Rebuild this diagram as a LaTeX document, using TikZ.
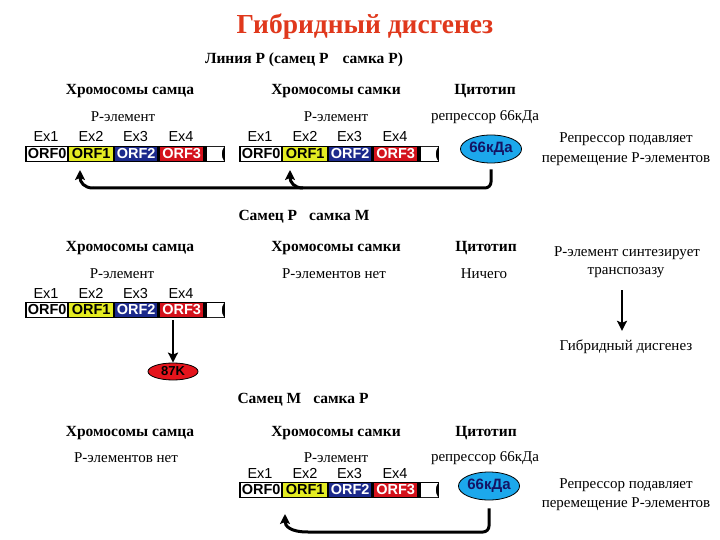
\documentclass[tikz,border=0pt]{standalone}
\usepackage{fontspec}
\setmainfont{Liberation Serif}
\newfontfamily\arialf{Liberation Sans}
\usetikzlibrary{arrows.meta,shapes.geometric}
\definecolor{ttl}{HTML}{E0381C}
\definecolor{orfy}{HTML}{E4EC22}
\definecolor{orfb}{HTML}{1C2A8C}
\definecolor{orfr}{HTML}{D4121C}
\definecolor{cyto}{HTML}{1CA8EC}
\definecolor{cytot}{HTML}{141464}
\definecolor{redk}{HTML}{E4141C}
\tikzset{
  head/.style={font=\fontsize{15.5}{18}\selectfont\bfseries, inner sep=0},
  txt/.style={font=\fontsize{15}{18}\selectfont, inner sep=0},
  exl/.style={font=\arialf\fontsize{14.5}{16}\selectfont, inner sep=0, anchor=base},
  seg/.style={font=\arialf\bfseries\fontsize{14.5}{16}\selectfont, inner sep=0, minimum height=14, anchor=west},
  conn/.style={line width=3pt, black},
  arr/.style={line width=3pt, black, -{Stealth[length=10pt,width=10pt,inset=2pt]}},
  arrthin/.style={line width=2pt, black, -{Stealth[length=10pt,width=10pt,inset=2pt]}},
  cytoell/.style={ellipse, draw=black, line width=0.8pt, fill=cyto, text=cytot, inner sep=0,
     minimum width=56, minimum height=28, font=\arialf\bfseries\fontsize{15}{16}\selectfont},
  pics/pbar/.style={code={
    \fill[black] (0,0) rectangle (200,16);
    \fill[white] (182,1) -- (199,1) .. controls (196,5) and (196,11) .. (199,15) -- (182,15) -- cycle;
    \node[seg,fill=white,text=black,minimum width=40] (-o0) at (2,8) {ORF0};
    \node[seg,fill=orfy,text=black,minimum width=44] (-o1) at (44,8) {ORF1};
    \node[seg,fill=orfb,text=white,minimum width=42] (-o2) at (90,8) {ORF2};
    \node[seg,fill=orfr,text=white,minimum width=43] (-o3) at (135,8) {ORF3};
    \node[exl] (-x1) at (21,-4) {Ex1};
    \node[exl] (-x2) at (66,-4) {Ex2};
    \node[exl] (-x3) at (110.5,-4) {Ex3};
    \node[exl] (-x4) at (156,-4) {Ex4};
  }}
}
\begin{document}
\begin{tikzpicture}[x=1pt,y=-1pt]
\fill[white] (0,0) rectangle (720,540);
\useasboundingbox (0,0) rectangle (720,540);

\node[font=\fontsize{27.5}{30}\selectfont\bfseries, text=ttl, inner sep=0] (title) at (365,27) {Гибридный дисгенез};
\node[head] (l1) at (304,60) {Линия Р (самец Р\hspace{14pt}самка Р)};

% row 1
\node[head] (h1a) at (130,91) {Хромосомы самца};
\node[head] (h1b) at (336,91) {Хромосомы самки};
\node[head] (h1c) at (485,91) {Цитотип};
\node[txt] (p1a) at (123,117) {Р-элемент};
\node[txt] (p1b) at (336,117) {Р-элемент};
\node[txt] (r1) at (485,117) {репрессор 66кДа};
\pic (b1) at (25,146) {pbar};
\pic (b1r) at (239,146) {pbar};
\node[cytoell] (e1) at (491,149) {66кДа};
\node[txt] (s1a) at (626,139) {Репрессор подавляет};
\node[txt] (s1b) at (626,159) {перемещение Р-элементов};
\coordinate (j1) at (93,188);
\coordinate (t1) at (80,170);
\coordinate (j2) at (303,188);
\coordinate (t2) at (290,170);
\draw[conn, rounded corners=6, shorten <=6pt] (e1.south) |- (j1);
\draw[arr] (j1) .. controls (84,188) and (80,182) .. (t1);
\draw[arr] (j2) .. controls (294,188) and (290,182) .. (t2);

% row 2
\node[head] (l2) at (304,217) {Самец Р\hspace{12pt}самка М};
\node[head] (h2a) at (130,248) {Хромосомы самца};
\node[head] (h2b) at (336,248) {Хромосомы самки};
\node[head] (h2c) at (486,248) {Цитотип};
\node[txt] (p2a) at (122,274) {Р-элемент};
\node[txt] (p2b) at (334,274) {Р-элементов нет};
\node[txt] (n2) at (484,274) {Ничего};
\node[txt] (tr1) at (627,253) {Р-элемент синтезирует};
\node[txt] (tr2) at (626,273) {транспозазу};
\node[txt] (gd) at (626,347) {Гибридный дисгенез};
\pic (b2) at (25,302) {pbar};
\node[ellipse, draw=black, line width=0.8pt, fill=redk, inner sep=0, minimum width=50, minimum height=17,
  font=\arialf\bfseries\fontsize{13}{15}\selectfont] (k87) at (173,371.5) {87K};
\draw[arrthin, shorten <=3pt] (k87.north |- b2-o3.south) -- (k87.north);
\draw[arrthin] ([xshift=-4pt,yshift=-12pt]tr2.south) -- ([xshift=-4pt,yshift=9pt]gd.north);

% row 3
\node[head] (l3) at (303,400) {Самец М\hspace{12pt}самка Р};
\node[head] (h3a) at (130,433) {Хромосомы самца};
\node[head] (h3b) at (336,433) {Хромосомы самки};
\node[head] (h3c) at (486,433) {Цитотип};
\node[txt] (p3a) at (126,458) {Р-элементов нет};
\node[txt] (p3b) at (336,458) {Р-элемент};
\node[txt] (r3) at (485,458) {репрессор 66кДа};
\pic (b3) at (239,482) {pbar};
\node[cytoell] (e3) at (489,486) {66кДа};
\node[txt] (s3a) at (626,485) {Репрессор подавляет};
\node[txt] (s3b) at (626,504) {перемещение Р-элементов};
\coordinate (j3) at (308,532);
\coordinate (t3) at (285,514);
\draw[conn, rounded corners=6, shorten <=8pt] (e3.south) |- (j3);
\draw[arr] (j3) .. controls (290,532) and (285,526) .. (t3);
\end{tikzpicture}
\end{document}
